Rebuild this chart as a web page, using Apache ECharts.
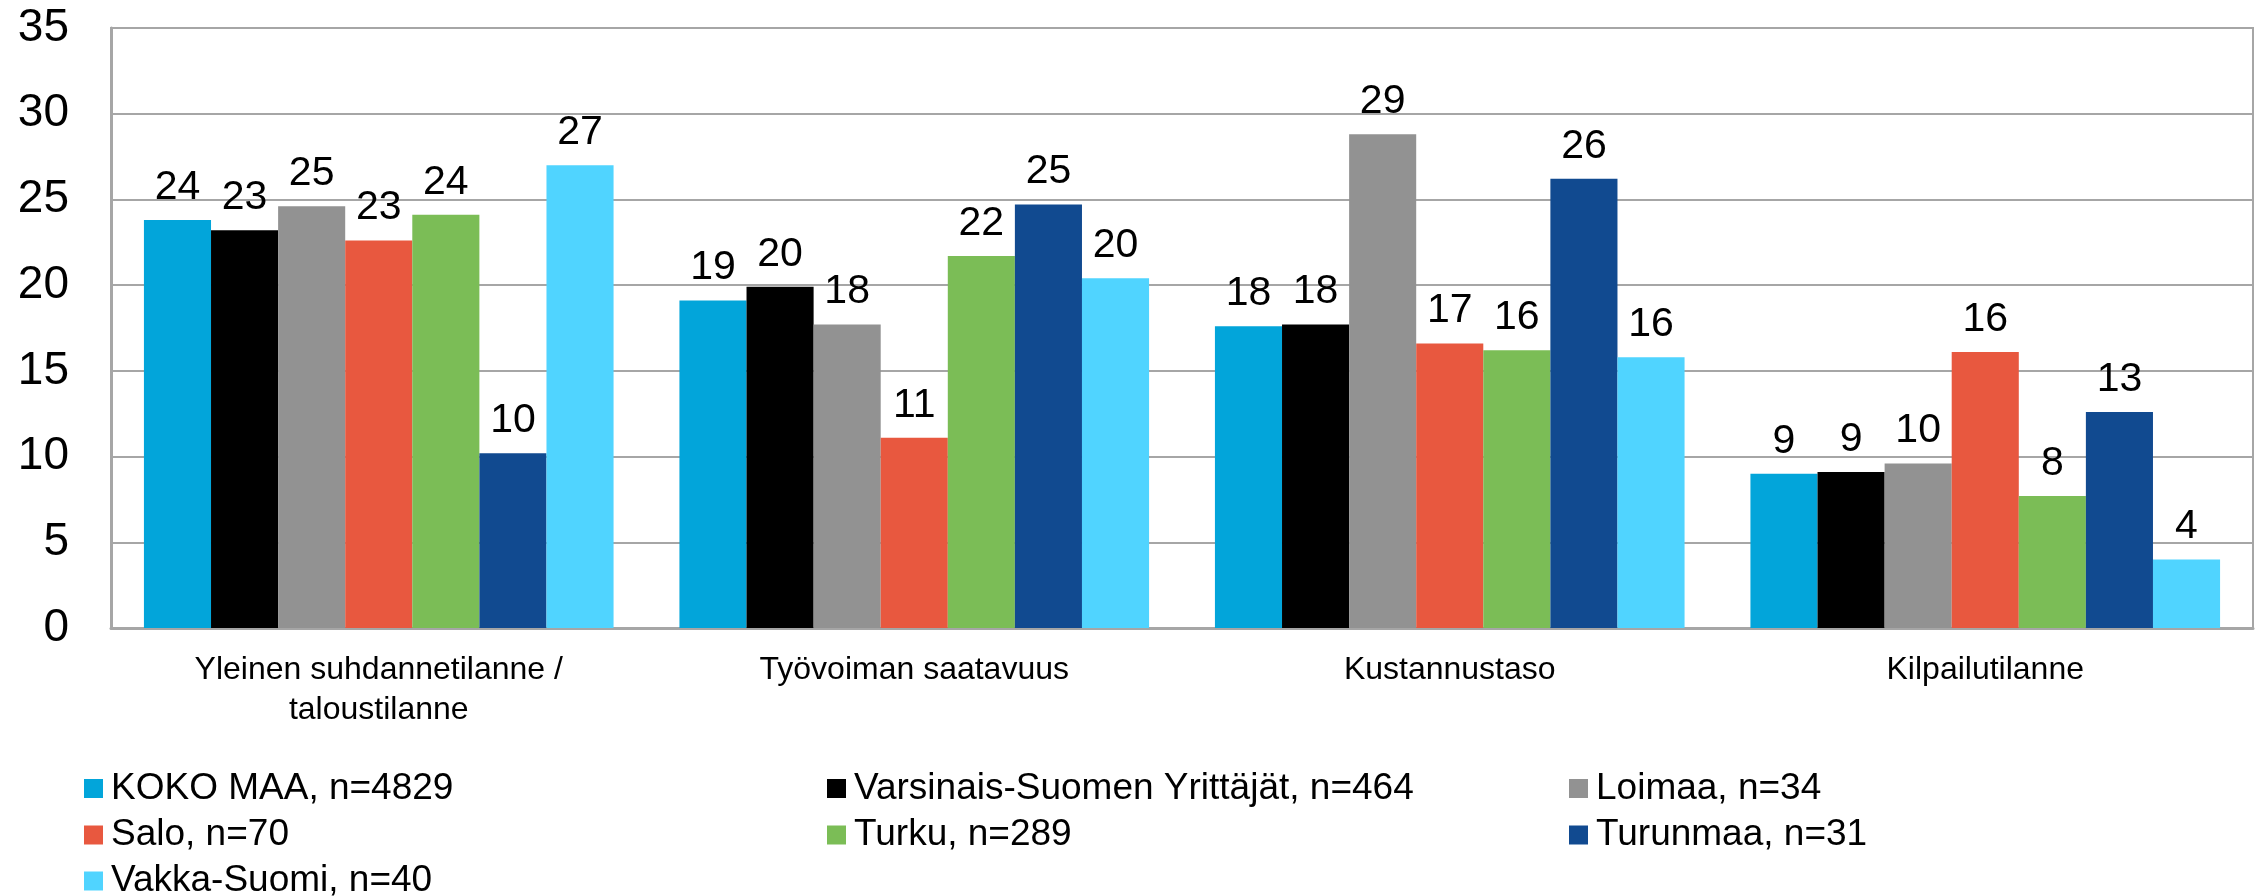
<!DOCTYPE html>
<html>
<head>
<meta charset="utf-8">
<script src="https://cdn.jsdelivr.net/npm/echarts@6/dist/echarts.min.js"></script>
<style>
html,body{margin:0;padding:0;background:#fff;overflow:hidden;}
#chart{width:2257px;height:896px;}
</style>
</head>
<body>
<div id="chart"></div>
<script>
const categories = ["Yleinen suhdannetilanne /\ntaloustilanne", "Työvoiman saatavuus", "Kustannustaso", "Kilpailutilanne"];
const seriesNames = ["KOKO MAA, n=4829", "Varsinais-Suomen Yrittäjät, n=464", "Loimaa, n=34", "Salo, n=70", "Turku, n=289", "Turunmaa, n=31", "Vakka-Suomi, n=40"];
const kokoMaa = [23.8, 19.1, 17.6, 9.0];
const varsinaisSuomi = [23.2, 19.9, 17.7, 9.1];
const loimaa = [24.6, 17.7, 28.8, 9.6];
const salo = [22.6, 11.1, 16.6, 16.1];
const turku = [24.1, 21.7, 16.2, 7.7];
const turunmaa = [10.2, 24.7, 26.2, 12.6];
const vakkaSuomi = [27.0, 20.4, 15.8, 4.0];
const yTicks = [0, 5, 10, 15, 20, 25, 30, 35];

const colors = ["#02A5DA", "#000000", "#929292", "#E8583F", "#7BBD56", "#114A90", "#50D4FF"];
const seriesData = [kokoMaa, varsinaisSuomi, loimaa, salo, turku, turunmaa, vakkaSuomi];
const FONT = "'Liberation Sans', Arial, sans-serif";

// legend grid: 3 columns, rows filled left to right
const legendCols = [84, 827, 1569];
const legendRowCenters = [788.5, 835, 881];
const LEG_LH = 42;

const legends = seriesNames.map(function (name, i) {
  const col = i % 3, row = Math.floor(i / 3);
  return {
    orient: 'horizontal',
    left: legendCols[col],
    top: legendRowCenters[row] - LEG_LH / 2,
    padding: 0,
    itemWidth: 19,
    itemHeight: 19,
    icon: 'rect',
    data: [name],
    textStyle: {fontFamily: FONT, fontSize: 37, color: '#000', lineHeight: LEG_LH, padding: [0, 0, 0, 3]}
  };
});

const chart = echarts.init(document.getElementById('chart'));

chart.setOption({
  animation: false,
  color: colors,
  textStyle: {fontFamily: FONT},
  grid: {left: 111, right: 4, top: 28, bottom: 268, show: true, borderColor: '#A6A6A6', borderWidth: 2, containLabel: false},
  legend: legends,
  xAxis: {
    type: 'category',
    data: categories,
    axisLine: {show: true, lineStyle: {color: '#A6A6A6', width: 3}},
    axisTick: {show: false},
    axisLabel: {fontFamily: FONT, fontSize: 32, color: '#000', margin: 22, lineHeight: 40, interval: 0}
  },
  yAxis: {
    type: 'value',
    min: 0,
    max: 35,
    interval: 5,
    axisLine: {show: true, lineStyle: {color: '#A6A6A6', width: 3}},
    axisTick: {show: false},
    splitLine: {show: true, lineStyle: {color: '#A6A6A6', width: 2}},
    axisLabel: {fontFamily: FONT, fontSize: 46, color: '#000', margin: 42,
      formatter: function (v) { return yTicks.indexOf(v) >= 0 ? String(v) : ''; }}
  },
  series: seriesNames.map(function (name, i) {
    return {
      name: name,
      type: 'bar',
      data: seriesData[i],
      barGap: '0%',
      barCategoryGap: '12.3%',
      itemStyle: {color: colors[i]},
      label: {
        show: true,
        position: 'top',
        distance: 12,
        fontFamily: FONT,
        fontSize: 41,
        color: '#000',
        formatter: function (p) { return Math.round(p.value); }
      }
    };
  })
});
</script>
</body>
</html>
